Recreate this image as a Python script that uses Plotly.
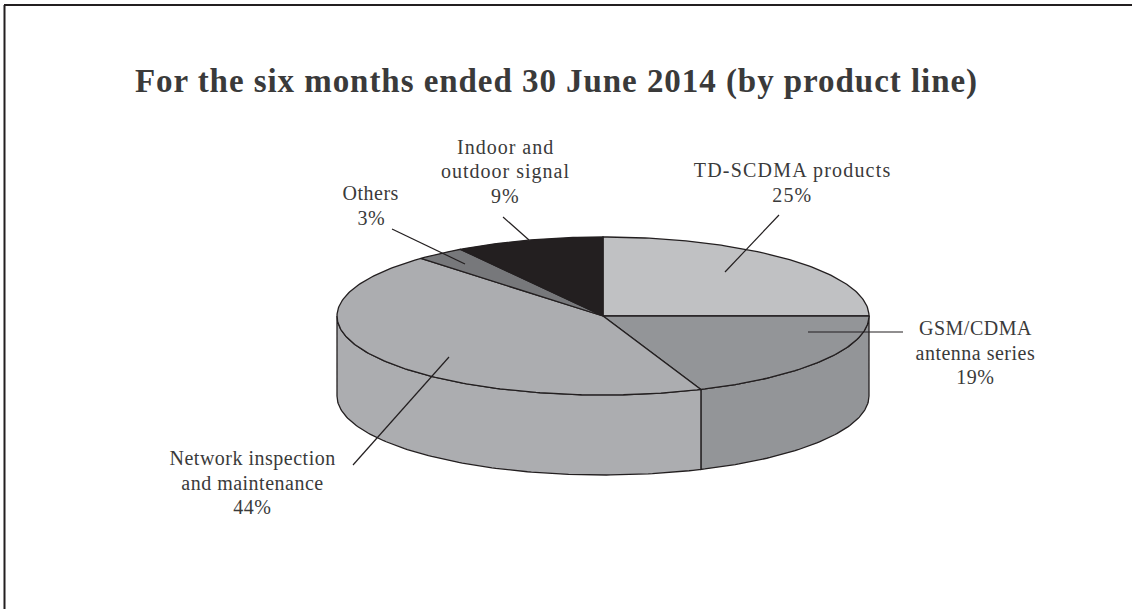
import json

import numpy as np
import plotly.graph_objects as go

TITLE = "For the six months ended 30 June 2014 (by product line)"
categories = ["TD-SCDMA products", "GSM/CDMA antenna series",
              "Network inspection and maintenance", "Others", "Indoor and outdoor signal"]
shares = [25, 19, 44, 3, 9]
slice_colors = ["#c0c1c3", "#939598", "#acadb0", "#77787b", "#231f20"]

# Label lines per slice, with the centre of the first line and the tracking in px
label_lines = [["TD-SCDMA products", "25%"],
               ["GSM/CDMA", "antenna series", "19%"],
               ["Network inspection", "and maintenance", "44%"],
               ["Others", "3%"],
               ["Indoor and", "outdoor signal", "9%"]]
label_x = [792, 975, 252, 371, 505.5]
label_y = [170, 328, 458, 193, 147]
label_tracking = [1.2, 0.5, 0.5, 0.5, 1.0]
TITLE_TRACKING = 0.95

# Leader lines: outer end, inner end
leader_x = [(779, 725), (903, 808), (353, 449), (392, 465), (503, 529)]
leader_y = [(215, 272), (332, 332), (465, 357), (229, 264), (217, 240)]

# Projected disc geometry, in plot units
CX, CY, RX, RY, DEPTH = 603, 316, 266, 79, 80
INK = "#231f20"
TEXT = "#3a3a3a"
SERIF = "Liberation Serif"
LINE_PITCH = 24.5


def rim(start_pct, end_pct, drop=0.0):
    """Points along the disc's rim, clockwise from 12 o'clock, in percent."""
    n = max(int(abs(end_pct - start_pct) * 4), 2)
    t = np.radians(np.linspace(start_pct, end_pct, n) * 3.6)
    return CX + RX * np.sin(t), CY - RY * np.cos(t) + drop


fig = go.Figure()


def polygon(x, y, color):
    fig.add_trace(go.Scatter(x=x, y=y, mode="lines", fill="toself", fillcolor=color,
                             line=dict(color=INK, width=1.3), hoverinfo="skip"))


# Side wall: only the part of each slice that faces the viewer (25% to 75%)
edges = np.concatenate([[0], np.cumsum(shares)])
for lo, hi, color in zip(edges[:-1], edges[1:], slice_colors):
    a, b = max(lo, 25), min(hi, 75)
    if a >= b:
        continue
    tx, ty = rim(a, b)
    bx, by = rim(a, b, DEPTH)
    polygon(np.concatenate([tx, bx[::-1], tx[:1]]),
            np.concatenate([ty, by[::-1], ty[:1]]), color)

# Top face
for lo, hi, color in zip(edges[:-1], edges[1:], slice_colors):
    tx, ty = rim(lo, hi)
    polygon(np.concatenate([[CX], tx, [CX]]), np.concatenate([[CY], ty, [CY]]), color)

# Leader lines
for xs, ys in zip(leader_x, leader_y):
    fig.add_trace(go.Scatter(x=list(xs), y=list(ys), mode="lines",
                             line=dict(color=INK, width=1.2), hoverinfo="skip"))

# Labels, one annotation per line to hold the line pitch
tracking = []
for lines, x, y, track in zip(label_lines, label_x, label_y, label_tracking):
    for i, line in enumerate(lines):
        fig.add_annotation(x=x, y=y + i * LINE_PITCH, text=line, showarrow=False,
                           xanchor="center", yanchor="middle",
                           font=dict(family=SERIF, size=20, color=TEXT))
        tracking.append(track)

fig.add_annotation(x=556, y=81, text=f"<b>{TITLE}</b>", showarrow=False,
                   xanchor="center", yanchor="middle",
                   font=dict(family=SERIF, size=33, color=TEXT))
tracking.append(TITLE_TRACKING)

# Open frame: left and top rules only
fig.add_shape(type="line", x0=4.5, x1=4.5, y0=5, y1=609, line=dict(color=INK, width=2))
fig.add_shape(type="line", x0=4, x1=1132, y0=5, y1=5, line=dict(color=INK, width=2))

fig.update_layout(
    width=1132, height=609, margin=dict(l=0, r=0, t=0, b=0),
    paper_bgcolor="white", plot_bgcolor="white", showlegend=False,
    xaxis=dict(range=[0, 1132], visible=False, fixedrange=True),
    yaxis=dict(range=[609, 0], visible=False, fixedrange=True),
)

# Plotly fonts have no tracking option, so it is set on the drawn text elements
track_js = """
var tracking = %s;
function applyTracking() {
  document.querySelectorAll('.annotation-text').forEach(function (el, i) {
    el.style.letterSpacing = tracking[i] + 'px';
  });
}
applyTracking();
document.getElementById('{plot_id}').on('plotly_afterplot', applyTracking);
""" % json.dumps(tracking)
fig.write_html("out.html", config={"displayModeBar": False}, post_script=track_js)
